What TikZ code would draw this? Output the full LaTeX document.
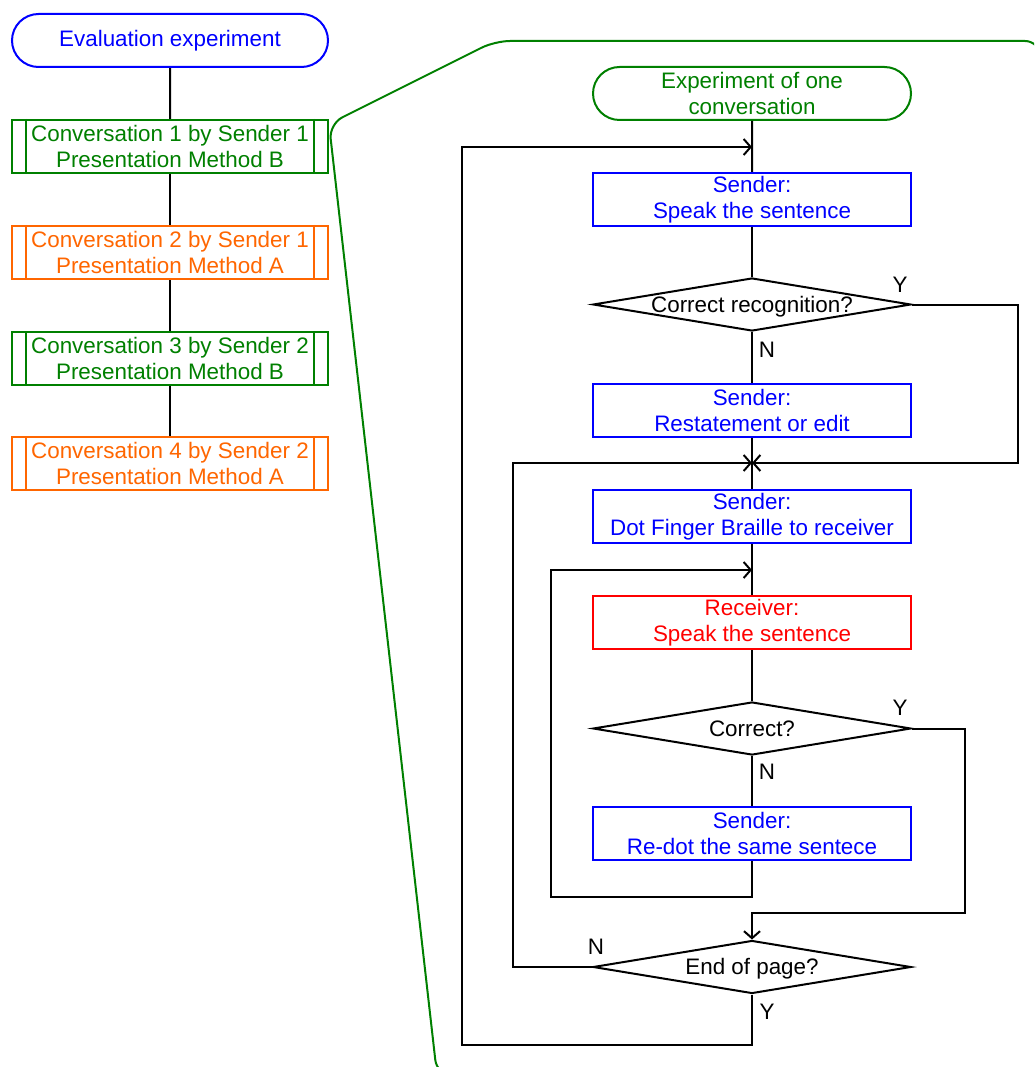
\documentclass[tikz,border=0pt]{standalone}
\usepackage{fontspec}
\setmainfont{Liberation Sans}
\usetikzlibrary{arrows.meta,shapes.geometric,shapes.misc}
\definecolor{cblue}{RGB}{0,0,255}
\definecolor{cgreen}{RGB}{0,128,0}
\definecolor{corange}{RGB}{255,102,0}
\definecolor{cred}{RGB}{255,0,0}
\newcommand{\diatext}[1]{\raisebox{-7.8pt}[0pt][0pt]{\makebox[0pt]{#1}}}
\begin{document}
\begin{tikzpicture}[x=1pt,y=-1pt,
  every node/.style={font=\fontsize{22.4}{26.5}\selectfont},
  box/.style={draw,line width=2pt,minimum width=318pt,minimum height=53pt,inner sep=0pt,align=center},
  lbox/.style={box,minimum width=316pt},
  term/.style={box,shape=rounded rectangle},
  lterm/.style={lbox,shape=rounded rectangle},
  dia/.style={draw,line width=2pt,shape=diamond,minimum width=318pt,minimum height=53pt,inner sep=0pt},
  lbl/.style={inner sep=0pt},
  conn/.style={line width=2pt},
  arr/.style={conn,-{Straight Barb[length=7pt,width=16pt]}},
  blueb/.style={draw=cblue,text=cblue},
  greenb/.style={draw=cgreen,text=cgreen},
  orangeb/.style={draw=corange,text=corange},
  redb/.style={draw=cred,text=cred},
  subline/.style={line width=2pt},
]
\useasboundingbox (0,0) rectangle (1034,1067);
\clip (0,0) rectangle (1034,1067);
\fill[white] (0,0) rectangle (1034,1067);

% green callout
\draw[cgreen,line width=2pt,rounded corners=15pt]
  (1100,1075) -- (437,1075) -- (329,124) -- (495,41) -- (1040,41) -- (1040,1100);

% left column
\node[lterm,blueb] (eval) at (170,40.5) {Evaluation experiment};
\node[lbox,greenb] (c1) at (170,146.5) {Conversation 1 by Sender 1\\Presentation Method B};
\node[lbox,orangeb] (c2) at (170,252.5) {Conversation 2 by Sender 1\\Presentation Method A};
\node[lbox,greenb] (c3) at (170,358.5) {Conversation 3 by Sender 2\\Presentation Method B};
\node[lbox,orangeb] (c4) at (170,463.5) {Conversation 4 by Sender 2\\Presentation Method A};
\foreach \n/\c in {c1/cgreen,c2/corange,c3/cgreen,c4/corange}{
  \draw[subline,\c] ([xshift=15pt]\n.north west) -- ([xshift=15pt]\n.south west);
  \draw[subline,\c] ([xshift=-15pt]\n.north east) -- ([xshift=-15pt]\n.south east);
}
\draw[conn] (eval) -- (c1);
\draw[conn] (c1) -- (c2);
\draw[conn] (c2) -- (c3);
\draw[conn] (c3) -- (c4);

% right flowchart
\node[term,greenb] (start) at (752,93.5) {Experiment of one\\conversation};
\node[box,blueb] (s1) at (752,199.5) {Sender:\\Speak the sentence};
\node[dia] (d1) at (752,304.5) {\diatext{Correct recognition?}};
\node[box,blueb] (r1) at (752,410.5) {Sender:\\Restatement or edit};
\node[box,blueb] (dot) at (752,516.5) {Sender:\\Dot Finger Braille to receiver};
\node[box,redb] (recv) at (752,622.5) {Receiver:\\Speak the sentence};
\node[dia] (d2) at (752,728.5) {\diatext{Correct?}};
\node[box,blueb] (redot) at (752,833.5) {Sender:\\Re-dot the same sentece};
\node[dia] (endp) at (752,967) {\diatext{End of page?}};

\node[lbl] (y1) at (900,285) {Y};
\node[lbl] (n1) at (767,350) {N};
\node[lbl] (y2) at (900,708) {Y};
\node[lbl] (n2) at (767,772) {N};
\node[lbl] (n3) at (596,947) {N};
\node[lbl] (y3) at (767,1012) {Y};

\coordinate (in1) at (752,147);
\coordinate (m1) at (752,463);
\coordinate (in2) at (752,570);

\draw[conn] (start) -- (s1);
\draw[arr] (endp.south) -- (752,1045) -- (462,1045) -- (462,147) -- (in1);
\draw[conn] (s1) -- (d1);
\draw[conn] (d1) -- (r1);
\draw[conn] (r1) -- (dot);
\draw[arr] (d1.east) -- (1018,304.5) -- (1018,463) -- (m1);
\draw[arr] (endp.west) -- (513,967) -- (513,463) -- (m1);
\draw[conn] (dot) -- (recv);
\draw[conn] (recv) -- (d2);
\draw[conn] (d2) -- (redot);
\draw[arr] (redot.south) -- (752,897) -- (551,897) -- (551,570) -- (in2);
\draw[arr] (d2.east) -- (965,728.5) -- (965,913) -- (752,913) -- (endp.north);
\end{tikzpicture}
\end{document}
